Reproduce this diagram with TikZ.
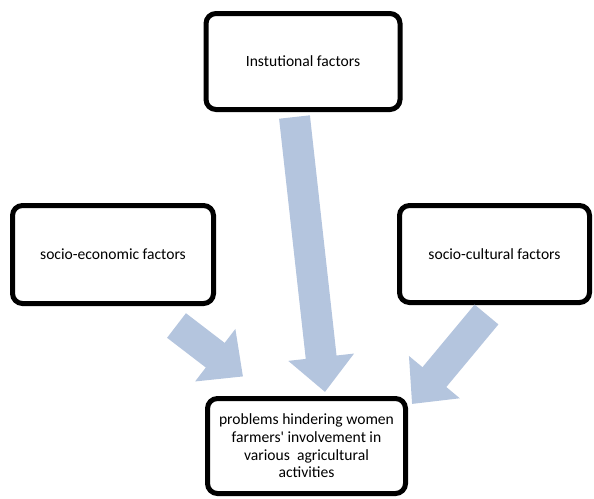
\documentclass[tikz,border=0pt]{standalone}
\usepackage{fontspec}
\setmainfont{Carlito}
\usetikzlibrary{arrows.meta}
\definecolor{arrowblue}{RGB}{180,197,222}
\begin{document}
\begin{tikzpicture}[x=1pt, y=-1pt,
  factor/.style={draw, line width=5pt, rounded corners=10pt, align=center,
    font=\fontsize{15.6}{17.6}\selectfont},
  blockarrow/.style={arrowblue, line width=31pt,
    -{Triangle[length=35pt, width=64pt]}}]
\useasboundingbox (0,0) rectangle (594,498);
\node[factor, minimum width=194pt, minimum height=96pt] (inst) at (303,61.5) {Instutional factors};
\node[factor, minimum width=201pt, minimum height=98pt] (socio) at (113,254.5) {socio-economic factors};
\node[factor, minimum width=190pt, minimum height=97pt] (cult) at (494.5,254) {socio-cultural factors};
\node[factor, minimum width=198pt, minimum height=95pt] (prob) at (306.5,446) {problems hindering women\\farmers\textquotesingle{} involvement in\\various\ \ agricultural\\activities};
\coordinate (instTail) at (294.5,117);
\coordinate (instTip) at (325,392);
\coordinate (socioTail) at (176.5,325.5);
\coordinate (socioTip) at (243,376.5);
\coordinate (cultTail) at (486.5,314.5);
\coordinate (cultTip) at (412,404);
\draw[blockarrow] (instTail) -- (instTip);
\draw[blockarrow] (socioTail) -- (socioTip);
\draw[blockarrow] (cultTail) -- (cultTip);
\end{tikzpicture}
\end{document}
